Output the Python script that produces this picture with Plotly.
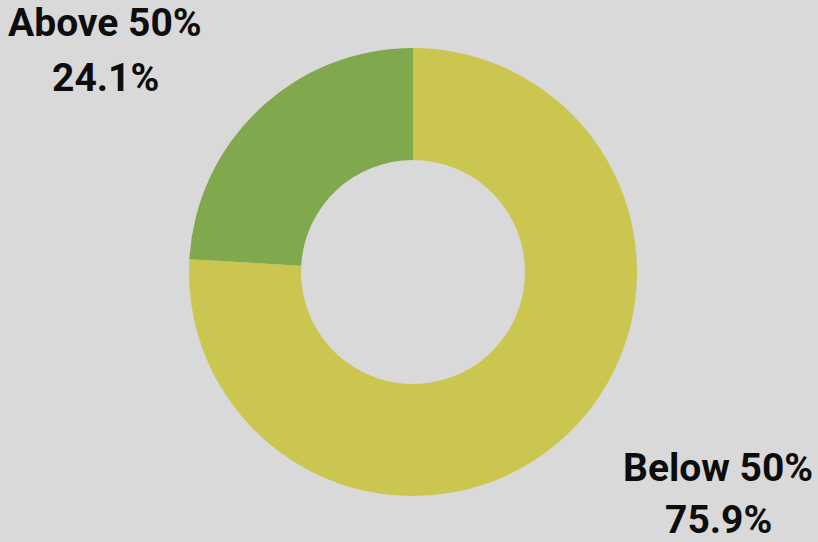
import plotly.graph_objects as go

labels = ['Above 50%', 'Below 50%']
values = [24.1, 75.9]
colors = ['#80a94e', '#cbc650']

W, H = 818, 542

fig = go.Figure()
# drawn clockwise from 12 o'clock, "Below" first so "Above" ends up top-left
fig.add_trace(go.Pie(
    labels=labels[::-1],
    values=values[::-1],
    hole=0.5,
    sort=False,
    direction='clockwise',
    rotation=0,
    marker=dict(colors=colors[::-1], line=dict(width=0)),
    textinfo='none',
    hoverinfo='label+percent',
    showlegend=False,
    domain=dict(x=[189 / W, 637 / W], y=[(H - 496) / H, (H - 48) / H]),
))

# outside labels: name on first line, percent on second
label_pos = [(105, 22.5, 77.5), (718, 467.5, 520)]
for (lab, val), (px, py1, py2) in zip(zip(labels, values), label_pos):
    for txt, py in ((lab, py1), (f'{val:.1f}%', py2)):
        fig.add_annotation(
            x=px / W, y=1 - py / H, xref='paper', yref='paper',
            text=f'<b>{txt}</b>', showarrow=False,
            xanchor='center', yanchor='middle',
            font=dict(family='Roboto', size=39, color='#0d0d0d'),
        )

fig.update_layout(
    width=W, height=H,
    margin=dict(l=0, r=0, t=0, b=0),
    paper_bgcolor='#d9d9d9',
    plot_bgcolor='#d9d9d9',
)

fig.write_html('out.html', config={'displayModeBar': False},
               post_script="document.body.style.margin='0';")
